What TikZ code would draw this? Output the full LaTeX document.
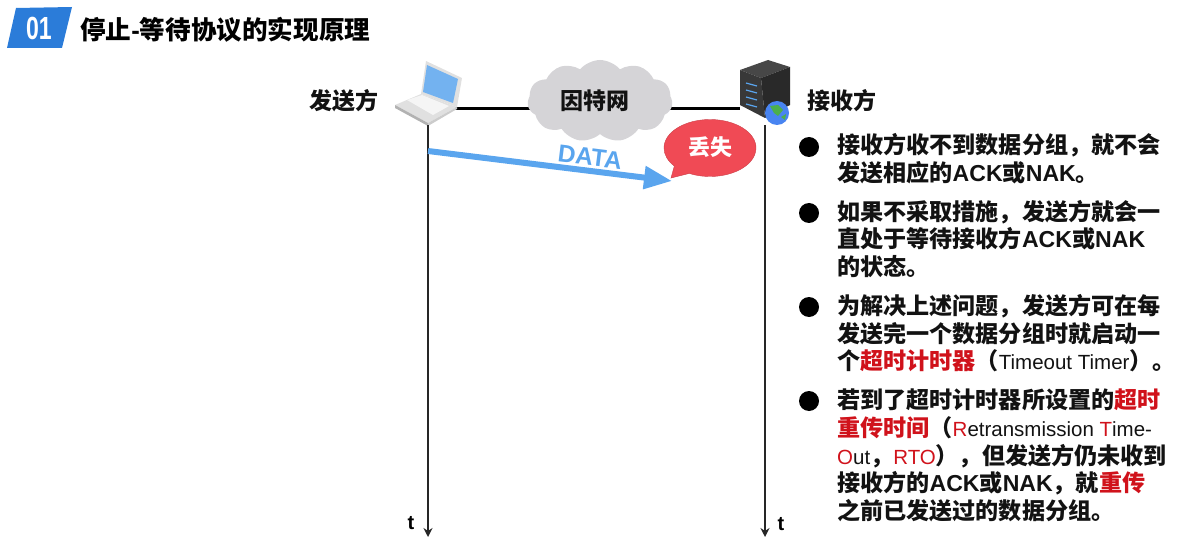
\documentclass[tikz,border=0pt]{standalone}
\usepackage{fontspec}
\usepackage{xcolor}
\usetikzlibrary{arrows.meta,shapes.symbols,shapes.callouts,backgrounds}
\setmainfont{Liberation Sans}
\newfontfamily\cjk{Noto Sans CJK SC}
\definecolor{headblue}{HTML}{2B7CD9}
\definecolor{datablue}{HTML}{5AA5EE}
\definecolor{cloudgrey}{HTML}{D5D4D7}
\definecolor{bubblered}{HTML}{F04A55}
\definecolor{alarmred}{HTML}{D0121B}
\newcommand{\zh}[1]{{\cjk #1}}
\newcommand{\hot}[1]{\textcolor{alarmred}{\zh{#1}}}
\newcommand{\thin}[1]{{\mdseries\fontsize{20.5}{27.6}\selectfont #1}}
\newcommand{\thinhot}[1]{\textcolor{alarmred}{\thin{#1}}}
\begin{document}
\begin{tikzpicture}[x=1pt,y=-1pt,
	label/.style={font=\fontsize{23}{26}\selectfont\bfseries,inner sep=0pt,text=black!93},
	para/.style={anchor=west,align=left,inner sep=0pt,text=black!93,font=\fontsize{23.1}{27.6}\selectfont\bfseries},
	dot/.style={circle,fill=black,minimum size=20pt,inner sep=0pt},
	lifeline/.style={draw=black!85,line width=2pt,-{Stealth[length=9pt,width=9pt]}},
	hostbox/.style={minimum width=54pt,minimum height=32pt,inner sep=0pt,outer sep=0pt},
	wire/.style={draw=black,line width=3pt},
	timelabel/.style={font=\fontsize{20}{22}\selectfont\bfseries,inner sep=0pt}]
	\useasboundingbox (0,0) rectangle (1183,556);
	\fill[headblue] (16,8) -- (72,7) -- (62,48) -- (7,48) -- cycle;
	\node[text=white,inner sep=0pt,font=\fontsize{32}{34}\selectfont\bfseries] (num) at (39,28) {\scalebox{0.72}[1]{01}};
	\node[anchor=west,inner sep=0pt,font=\fontsize{25.6}{28}\selectfont\bfseries] (title) at (80,29.5) {\zh{停止}-\zh{等待协议的实现原理}};

	\fill[white!88!black] (426,61) -- (462,78) -- (457,107) -- (421,94) -- cycle;
	\fill[datablue!85!white] (427,65) -- (458,79) -- (453,103) -- (423,92) -- cycle;
	\fill[black!12] (395,105) -- (421,94) -- (457,107) -- (428,123) -- cycle;
	\fill[black!4] (407,100) -- (422,95) -- (449,106) -- (433,115) -- cycle;
	\fill[black!30] (395,105) -- (428,123) -- (428,126) -- (395,108) -- cycle;
	\fill[black!20] (428,123) -- (457,107) -- (457,109) -- (428,126) -- cycle;
	\node[hostbox] (laptop) at (428,109) {};

	\fill[black!72] (768,60) -- (790,67) -- (761,78) -- (740,70) -- cycle;
	\fill[black!78] (740,70) -- (761,78) -- (765,118) -- (740,105) -- cycle;
	\fill[black!84] (761,78) -- (790,67) -- (790,105) -- (765,118) -- cycle;
	\foreach \yy in {83,90,97,104}
		\draw[datablue,line width=1.2pt] (746,\yy) -- (757,\yy+3);
	\node[hostbox,minimum width=50pt] (server) at (765,109) {};
	\fill[datablue!80!blue] (777,113) circle (12);
	\fill[green!55!black!70] (770,106) -- (778,105) -- (783,110) -- (778,116) -- (774,113) -- cycle;
	\fill[green!55!black!70] (781,117) -- (786,114) -- (785,120) -- cycle;

	\node[cloud,cloud puffs=11,cloud puff arc=100,aspect=1.8,fill=cloudgrey,inner sep=0pt,minimum width=145pt,minimum height=82pt] (net) at (600,101) {};
	\node[label] (netlabel) at (595,101) {\zh{因特网}};
	\begin{scope}[on background layer]
		\draw[wire] (laptop.east) -- (laptop.east -| net.center);
		\draw[wire] (server.west -| net.center) -- (server.west);
	\end{scope}

	\node[label] (sender) at (344,101) {\zh{发送方}};
	\node[label] (receiver) at (842,101) {\zh{接收方}};

	\coordinate (laptopend) at (428,537);
	\coordinate (serverend) at (765,537);
	\draw[lifeline] (laptop.south) -- (laptopend);
	\draw[lifeline] (server.south) -- (serverend);
	\node[timelabel] (tleft) at (411,523) {t};
	\node[timelabel] (tright) at (781,524) {t};

	\coordinate (datastart) at (428,151);
	\coordinate (dataend) at (672,181);
	\draw[datablue,line width=6pt,-{Triangle[length=28pt,width=22pt]}] (datastart) -- (dataend);
	\node[rotate=-7,text=datablue,inner sep=0pt,font=\fontsize{24.5}{26}\selectfont\bfseries] (datalabel) at (590,157) {DATA};

	\node[ellipse callout,draw=bubblered!85!black,fill=bubblered,callout absolute pointer={(671,178)},callout pointer arc=24,minimum width=92pt,minimum height=57pt,inner sep=0pt] (lost) at (710,148) {};
	\node[text=white,inner sep=0pt,font=\fontsize{22}{24}\selectfont\bfseries] (lostlabel) at (710,147) {\zh{丢失}};

	\node[dot] (dotA) at (809,147) {};
	\node[dot] (dotB) at (809,213) {};
	\node[dot] (dotC) at (809,307) {};
	\node[dot] (dotD) at (809,401) {};
	\node[para] (textA) at (837,158.5) {\zh{接收方收不到数据分组，就不会}\\\zh{发送相应的}ACK\zh{或}NAK\zh{。}};
	\node[para] (textB) at (837,239) {\zh{如果不采取措施，发送方就会一}\\\zh{直处于等待接收方}ACK\zh{或}NAK\\\zh{的状态。}};
	\node[para] (textC) at (837,333.5) {\zh{为解决上述问题，发送方可在每}\\\zh{发送完一个数据分组时就启动一}\\\zh{个}\hot{超时计时器}\zh{（}\thin{Timeout Timer}\zh{）。}};
	\node[para] (textD) at (837,455.5) {\zh{若到了超时计时器所设置的}\hot{超时}\\\hot{重传时间}\zh{（}\thinhot{R}\thin{etransmission }\thinhot{T}\thin{ime-}\\\thinhot{O}\thin{ut}\zh{，}\thinhot{RTO}\zh{），但发送方仍未收到}\\\zh{接收方的}ACK\zh{或}NAK\zh{，就}\hot{重传}\\\zh{之前已发送过的数据分组。}};
\end{tikzpicture}
\end{document}
